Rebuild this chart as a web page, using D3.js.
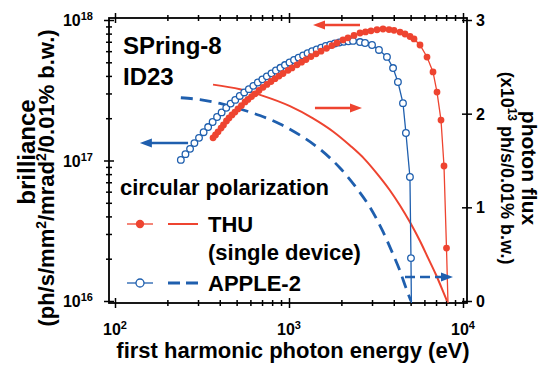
<!DOCTYPE html>
<html>
<head>
<meta charset="utf-8">
<script src="https://cdn.jsdelivr.net/npm/d3@7"></script>
<style>
  body { margin: 0; background: #fff; }
  svg { display: block; }
  text { font-family: "Liberation Sans", Arial, Helvetica, sans-serif; font-weight: bold; fill: #000; }
</style>
</head>
<body>
<svg id="chart" width="542" height="365"></svg>
<script>
// ---- THU (single device): brilliance, ph/s/mm^2/mrad^2/0.01% b.w. ----
const thuEnergy = [366, 378, 391, 407, 420, 437, 452, 470, 489, 509,
  533, 559, 581, 609, 638, 672, 709, 747, 788, 831,
  876, 924, 987, 1040, 1112, 1180, 1252, 1338, 1430, 1528,
  1643, 1766, 1887, 2043, 2183, 2364, 2559, 2753, 2960, 3205,
  3469, 3756, 4012, 4345, 4642, 4960, 5230, 5661, 6210, 6724,
  7089, 7474, 7777, 8038, 8308];
const thuBrilliance = [1.45e17, 1.52e17, 1.60e17, 1.70e17, 1.79e17, 1.91e17, 2.01e17, 2.11e17, 2.21e17, 2.33e17,
  2.46e17, 2.61e17, 2.72e17, 2.85e17, 2.98e17, 3.15e17, 3.32e17, 3.48e17, 3.65e17, 3.82e17,
  3.99e17, 4.16e17, 4.38e17, 4.56e17, 4.80e17, 5.01e17, 5.23e17, 5.49e17, 5.74e17, 6.00e17,
  6.29e17, 6.58e17, 6.86e17, 7.21e17, 7.47e17, 7.77e17, 8.08e17, 8.23e17, 8.38e17, 8.52e17,
  8.63e17, 8.55e17, 8.45e17, 8.20e17, 7.95e17, 7.63e17, 7.33e17, 6.64e17, 5.45e17, 4.27e17,
  3.07e17, 1.94e17, 9.14e16, 2.38e16, 5.28e15];

// ---- APPLE-2: brilliance ----
const appleEnergy = [239, 254, 270, 286, 304, 323, 343, 364, 386, 410,
  436, 462, 491, 521, 553, 588, 624, 662, 703, 746,
  793, 841, 893, 948, 1007, 1069, 1135, 1205, 1279, 1358,
  1442, 1531, 1626, 1726, 1832, 1945, 2065, 2193, 2333, 2559,
  2735, 3000, 3289, 3656, 3963, 4227, 4519, 4699, 4955, 5023,
  5058];
const appleBrilliance = [1.01e17, 1.11e17, 1.21e17, 1.33e17, 1.45e17, 1.59e17, 1.73e17, 1.88e17, 2.04e17, 2.20e17,
  2.37e17, 2.54e17, 2.70e17, 2.88e17, 3.05e17, 3.22e17, 3.40e17, 3.59e17, 3.78e17, 3.97e17,
  4.17e17, 4.37e17, 4.57e17, 4.78e17, 4.99e17, 5.19e17, 5.40e17, 5.60e17, 5.81e17, 6.00e17,
  6.18e17, 6.35e17, 6.53e17, 6.67e17, 6.81e17, 6.92e17, 7.00e17, 7.06e17, 7.10e17, 6.97e17,
  6.86e17, 6.64e17, 6.12e17, 5.46e17, 4.55e17, 3.62e17, 2.56e17, 1.57e17, 7.64e16, 2.02e16,
  7.9e15];

// ---- photon flux, x10^13 ph/s/0.01% b.w. ----
const thuFluxEnergy = [366, 523, 709, 1013, 1374, 1790, 2242, 2735, 3205, 3806, 4345, 4960, 5661, 6295, 6995, 7573, 8090];
const thuFlux = [2.31, 2.26, 2.19, 2.08, 1.95, 1.81, 1.66, 1.51, 1.36, 1.18, 1.02, 0.84, 0.64, 0.46, 0.28, 0.13, 0.00];
const appleFluxEnergy = [239, 308, 401, 523, 681, 888, 1157, 1507, 1964, 2459, 2922, 3469, 3961, 4345, 4702, 5023];
const appleFlux = [2.17, 2.15, 2.11, 2.05, 1.98, 1.89, 1.77, 1.62, 1.42, 1.20, 1.00, 0.74, 0.50, 0.32, 0.14, 0.00];

// ---- axis ticks ----
const xTickExps = [2, 3, 4];
const yTickExps = [16, 17, 18];
const fluxTicks = [0, 1, 2, 3];

// ---- arrows telling which axis each curve family belongs to ----
const arrowSpecs = [
  { e0: 2559, e1: 1374, v: 9.21e17, axis: "left",  color: "red",  dashed: false },
  { e0: 1410, e1: 2627, v: 2.06,    axis: "right", color: "red",  dashed: false },
  { e0: 263,  e1: 139,  v: 1.33e17, axis: "left",  color: "blue", dashed: false },
  { e0: 4642, e1: 8760, v: 0.256,   axis: "right", color: "blue", dashed: true }
];

const RED = "#ee4430";
const BLUE = "#1f5fae";
const colorOf = { red: RED, blue: BLUE };

const svg = d3.select("#chart");
const frame = { l: 109, r: 467, t: 18, b: 303 };

const x = d3.scaleLog().domain([1e2, 1e4]).range([115, 463]);
const yB = d3.scaleLog().domain([1e16, 1e18]).range([301, 20]);
const yF = d3.scaleLinear().domain([0, 3]).range([301, 20]);

const defs = svg.append("defs");
defs.append("clipPath").attr("id", "plotClip").append("rect")
  .attr("x", frame.l).attr("y", frame.t)
  .attr("width", frame.r - frame.l).attr("height", frame.b - frame.t);

// ---- frame and crossing ticks ----
const minorX = [];
[100, 1000].forEach(d => { for (let k = 2; k <= 9; k++) minorX.push(d * k); });
const majorX = xTickExps.map(e => Math.pow(10, e));
const minorY = [];
[1e16, 1e17].forEach(d => { for (let k = 2; k <= 9; k++) minorY.push(d * k); });
const majorY = yTickExps.map(e => Math.pow(10, e));

function crossTicks(sel, horizontal, len) {
  sel.selectAll(".tick line")
    .attr(horizontal ? "y1" : "x1", -len)
    .attr(horizontal ? "y2" : "x2", len)
    .attr("stroke", "#000").attr("stroke-width", 1.5);
  sel.selectAll(".tick text").remove();
  sel.select(".domain").remove();
}

const axes = svg.append("g");
function addAxis(axisFn, scale, values, tx, ty, horizontal, len) {
  const g = axes.append("g").attr("transform", `translate(${tx},${ty})`)
    .call(axisFn(scale).tickValues(values).tickFormat(""));
  crossTicks(g, horizontal, len);
}
addAxis(d3.axisBottom, x, minorX, 0, frame.b, true, 3);
addAxis(d3.axisBottom, x, majorX, 0, frame.b, true, 5);
addAxis(d3.axisTop, x, minorX, 0, frame.t, true, 3);
addAxis(d3.axisTop, x, majorX, 0, frame.t, true, 5);
addAxis(d3.axisLeft, yB, minorY, frame.l, 0, false, 3);
addAxis(d3.axisLeft, yB, majorY, frame.l, 0, false, 5);
addAxis(d3.axisRight, yF, fluxTicks, frame.r, 0, false, 5);

axes.append("rect")
  .attr("x", frame.l).attr("y", frame.t)
  .attr("width", frame.r - frame.l).attr("height", frame.b - frame.t)
  .attr("fill", "none").attr("stroke", "#000").attr("stroke-width", 1.8);

// ---- tick labels ----
yTickExps.forEach(e => {
  const t = svg.append("text").attr("x", 93).attr("y", yB(Math.pow(10, e)) + 6)
    .attr("text-anchor", "end").attr("font-size", 16);
  t.append("tspan").text("10");
  t.append("tspan").attr("dy", -6).attr("font-size", 11).text(e);
});
xTickExps.forEach(e => {
  const t = svg.append("text").attr("x", x(Math.pow(10, e))).attr("y", 335)
    .attr("text-anchor", "middle").attr("font-size", 16);
  t.append("tspan").text("10");
  t.append("tspan").attr("dy", -6).attr("font-size", 11).text(e);
});
fluxTicks.forEach(v => {
  svg.append("text").attr("x", frame.r + 9).attr("y", yF(v) + 6)
    .attr("font-size", 16).text(v);
});

// ---- axis titles ----
svg.append("text").attr("x", 293).attr("y", 358).attr("text-anchor", "middle")
  .attr("font-size", 22).text("first harmonic photon energy (eV)");

const lt = svg.append("g").attr("transform", "translate(35,0) rotate(-90)");
lt.append("text").attr("x", -152).attr("text-anchor", "middle").attr("font-size", 24).text("brilliance");
const lt2 = lt.append("text").attr("x", -178).attr("y", 19).attr("text-anchor", "middle").attr("font-size", 22);
lt2.append("tspan").text("(ph/s/mm");
lt2.append("tspan").attr("dy", -8).attr("font-size", 14).text("2");
lt2.append("tspan").attr("dy", 8).text("/mrad");
lt2.append("tspan").attr("dy", -8).attr("font-size", 14).text("2");
lt2.append("tspan").attr("dy", 8).text("/0.01% b.w.)");

const rt = svg.append("g").attr("transform", "translate(522,168) rotate(90)");
rt.append("text").attr("text-anchor", "middle").attr("font-size", 21).text("photon flux");
const rt2 = rt.append("text").attr("y", 21).attr("text-anchor", "middle").attr("font-size", 18);
rt2.append("tspan").text("(x10");
rt2.append("tspan").attr("dy", -7).attr("font-size", 12).text("13");
rt2.append("tspan").attr("dy", 7).text(" ph/s/0.01% b.w.)");

// ---- curves ----
const plot = svg.append("g").attr("clip-path", "url(#plotClip)");

const fluxLine = (yScale) => d3.line()
  .x(d => x(d[0])).y(d => yScale(d[1])).curve(d3.curveMonotoneX);
const markerLine = d3.line().x(d => x(d[0])).y(d => yB(d[1]));

const appleFluxPts = appleFluxEnergy.map((e, i) => [e, appleFlux[i]]);
const thuFluxPts = thuFluxEnergy.map((e, i) => [e, thuFlux[i]]);
const applePts = appleEnergy.map((e, i) => [e, appleBrilliance[i]]);
const thuPts = thuEnergy.map((e, i) => [e, thuBrilliance[i]]);

plot.append("path").attr("d", fluxLine(yF)(appleFluxPts))
  .attr("fill", "none").attr("stroke", BLUE).attr("stroke-width", 2.8)
  .attr("stroke-dasharray", "12,7");
plot.append("path").attr("d", fluxLine(yF)(thuFluxPts))
  .attr("fill", "none").attr("stroke", RED).attr("stroke-width", 2);

plot.append("path").attr("d", markerLine(applePts))
  .attr("fill", "none").attr("stroke", BLUE).attr("stroke-width", 1.3);
plot.selectAll("circle.apple").data(applePts).join("circle").attr("class", "apple")
  .attr("cx", d => x(d[0])).attr("cy", d => yB(d[1])).attr("r", 3.3)
  .attr("fill", "#fff").attr("stroke", BLUE).attr("stroke-width", 1.3);

plot.append("path").attr("d", markerLine(thuPts))
  .attr("fill", "none").attr("stroke", RED).attr("stroke-width", 1.3);
plot.selectAll("circle.thu").data(thuPts).join("circle").attr("class", "thu")
  .attr("cx", d => x(d[0])).attr("cy", d => yB(d[1])).attr("r", 3.4)
  .attr("fill", RED);

// ---- arrows ----
function arrow(g, x0, x1, y, color, dashed) {
  const dir = Math.sign(x1 - x0);
  const headLen = 12, halfW = 4.5;
  g.append("line").attr("x1", x0).attr("y1", y).attr("x2", x1 - dir * headLen + dir).attr("y2", y)
    .attr("stroke", color).attr("stroke-width", 2.5)
    .attr("stroke-dasharray", dashed ? "10,5" : null);
  g.append("path")
    .attr("d", `M${x1},${y}L${x1 - dir * headLen},${y - halfW}L${x1 - dir * headLen},${y + halfW}Z`)
    .attr("fill", color);
}
const arrows = svg.append("g");
arrowSpecs.forEach(a => {
  const ys = a.axis === "left" ? yB : yF;
  arrow(arrows, x(a.e0), x(a.e1), ys(a.v), colorOf[a.color], a.dashed);
});

// ---- facility label ----
svg.append("text").attr("x", 123).attr("y", 54).attr("font-size", 24).text("SPring-8");
svg.append("text").attr("x", 123).attr("y", 85).attr("font-size", 24).text("ID23");

// ---- legend ----
const lg = svg.append("g");
lg.append("text").attr("x", 120).attr("y", 195).attr("font-size", 22).text("circular polarization");

lg.append("line").attr("x1", 127).attr("x2", 153).attr("y1", 224).attr("y2", 224)
  .attr("stroke", RED).attr("stroke-width", 1.3);
lg.append("circle").attr("cx", 140).attr("cy", 224).attr("r", 4.2).attr("fill", RED);
lg.append("line").attr("x1", 168).attr("x2", 198).attr("y1", 224).attr("y2", 224)
  .attr("stroke", RED).attr("stroke-width", 2);
lg.append("text").attr("x", 208).attr("y", 232).attr("font-size", 22).text("THU");
lg.append("text").attr("x", 208).attr("y", 260).attr("font-size", 22).text("(single device)");

lg.append("line").attr("x1", 127).attr("x2", 153).attr("y1", 283).attr("y2", 283)
  .attr("stroke", BLUE).attr("stroke-width", 1.3);
lg.append("circle").attr("cx", 140).attr("cy", 283).attr("r", 4).attr("fill", "#fff")
  .attr("stroke", BLUE).attr("stroke-width", 1.3);
lg.append("line").attr("x1", 168).attr("x2", 198).attr("y1", 283).attr("y2", 283)
  .attr("stroke", BLUE).attr("stroke-width", 2.8).attr("stroke-dasharray", "12,6");
lg.append("text").attr("x", 208).attr("y", 291).attr("font-size", 22).text("APPLE-2");
</script>
</body>
</html>
